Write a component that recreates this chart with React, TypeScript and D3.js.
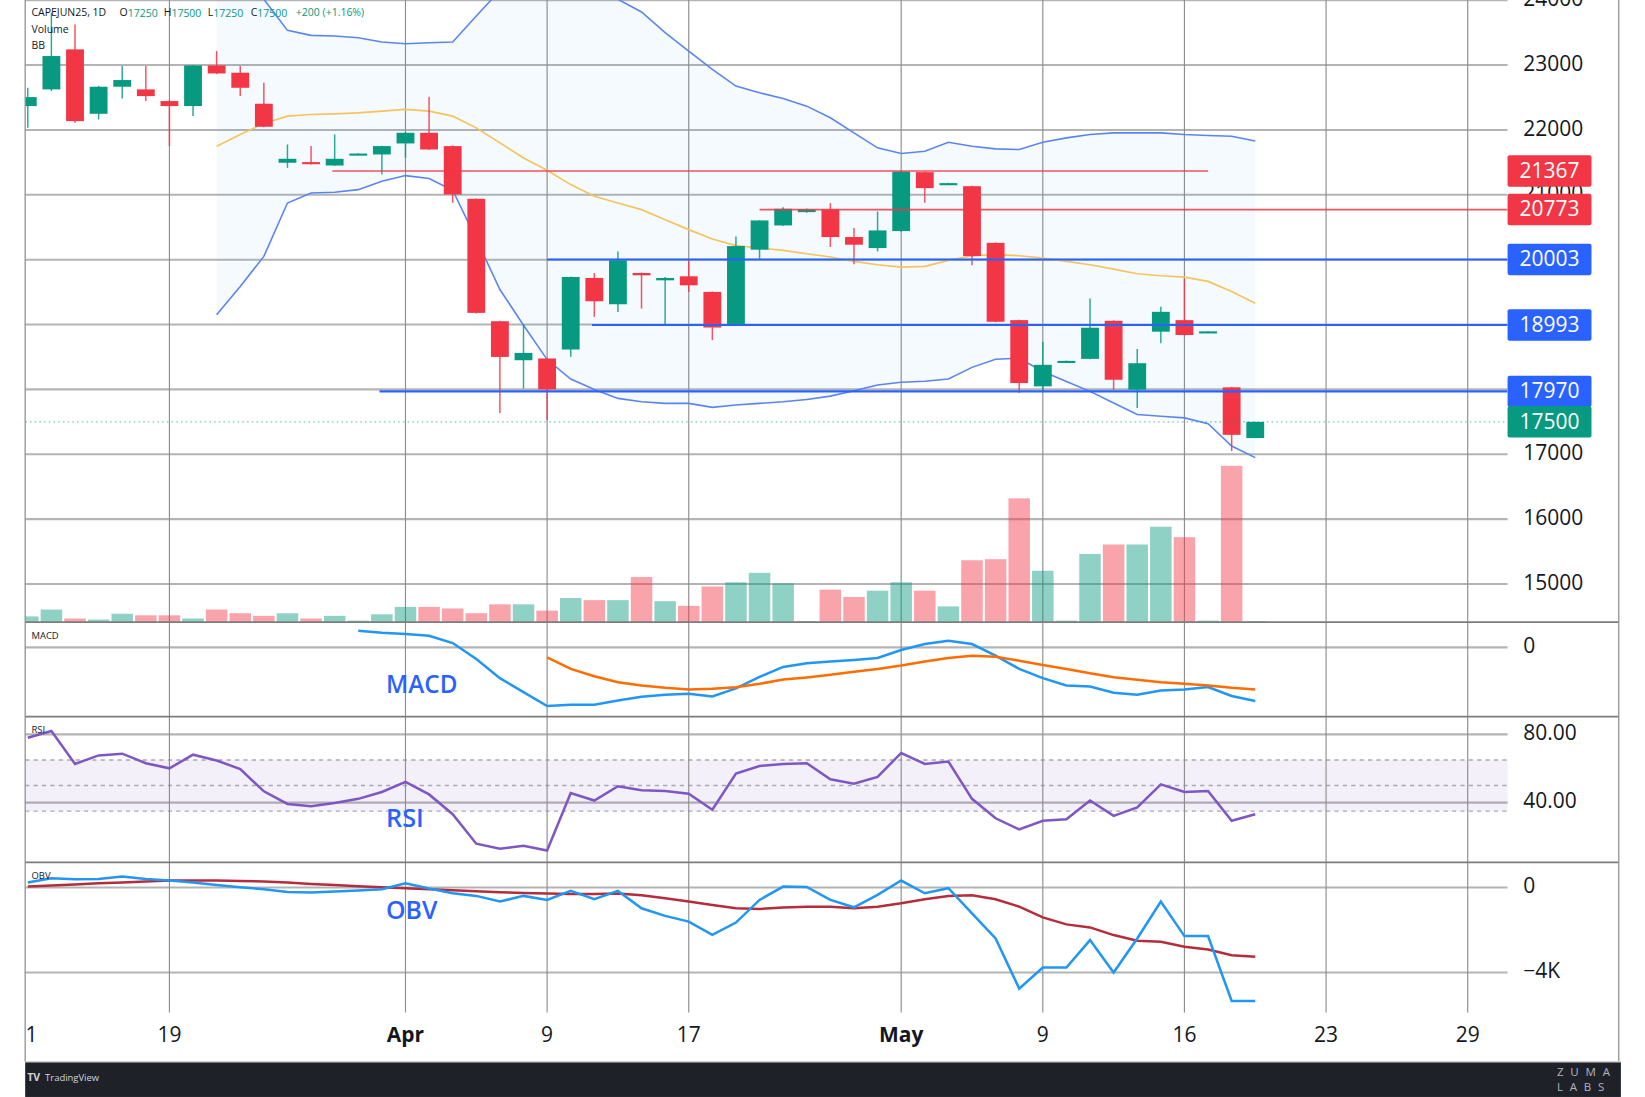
import * as d3 from 'd3';

// Picture is laid out on a 1568 x 1045.6 grid and scaled to the 1645 x 1097 window.
const W = 1568;
const H = 1045.6;

// Daily bars, index 0 is the session cut by the left edge.
const opens = [22368, 22625, 23242, 22249, 22666, 22625, 22445, 22368, 22995, 22882, 22404, 21494, 21504, 21452, 21630, 21622, 21792, 21956, 21751, 20938, 19051, 18450, 18477, 18615, 19718, 19313, 19795, 19682, 19744, 19503, 19000, 20154, 20528, 20733, 20774, 20349, 20179, 20441, 21349, 21170, 21133, 20259, 19068, 18047, 18420, 18471, 19058, 17996, 18890, 19068, 18885, 18032, 17250];
const highs = [22650, 23807, 23627, 22680, 22985, 22985, 22460, 23000, 23216, 22985, 22728, 21776, 21751, 21931, 21640, 21755, 21965, 22512, 21760, 20945, 19060, 19000, 18480, 19740, 19795, 20128, 19800, 19733, 19990, 19510, 20359, 20610, 20810, 20790, 20872, 20487, 20744, 21367, 21360, 21185, 21140, 20265, 19075, 18736, 18445, 19400, 19065, 18624, 19273, 19707, 18900, 18040, 17500];
const lows = [22033, 22600, 22111, 22162, 22486, 22445, 21751, 22213, 22860, 22522, 22040, 21416, 21468, 21445, 21625, 21314, 21571, 21690, 20877, 19170, 17637, 18013, 17528, 18503, 19118, 19195, 19246, 19000, 19503, 18759, 18995, 20015, 20520, 20725, 20195, 19928, 20128, 20430, 20877, 21165, 19913, 19035, 17945, 17970, 18415, 18465, 17996, 17715, 18711, 18830, 18880, 17051, 17250];
const closes = [22506, 23139, 22136, 22666, 22769, 22522, 22368, 22995, 22871, 22650, 22049, 21555, 21473, 21555, 21636, 21751, 21956, 21699, 21005, 19180, 18501, 18563, 18000, 19733, 19359, 19990, 19759, 19718, 19605, 18954, 20210, 20605, 20785, 20774, 20349, 20231, 20451, 21359, 21103, 21180, 20056, 19043, 18098, 18379, 18440, 18951, 18149, 18404, 19196, 18839, 18895, 17300, 17500];
const volumes = [110, 240, 70, 50, 160, 130, 130, 70, 240, 170, 120, 170, 70, 120, 30, 150, 290, 290, 260, 170, 340, 340, 220, 460, 420, 420, 860, 400, 310, 680, 760, 940, 740, 20, 620, 480, 600, 760, 600, 300, 1180, 1200, 2360, 980, 30, 1300, 1480, 1480, 1820, 1620, 30, 2980, 20];

// Bollinger bands from bar 8
const bbStart = 8;
const bbUpper = [24700, 24350, 24014, 23535, 23458, 23448, 23422, 23355, 23329, 23345, 23355, 23757, 24150, 24500, 24700, 24650, 24350, 24014, 23818, 23499, 23216, 22933, 22676, 22573, 22485, 22367, 22187, 21955, 21724, 21636, 21672, 21811, 21749, 21708, 21698, 21811, 21878, 21929, 21955, 21955, 21955, 21929, 21914, 21904, 21830];
const bbBasis = [21749, 21929, 22099, 22213, 22238, 22249, 22264, 22290, 22316, 22290, 22213, 22032, 21801, 21569, 21379, 21157, 20977, 20874, 20771, 20617, 20463, 20319, 20216, 20180, 20144, 20092, 20041, 19974, 19922, 19886, 19897, 19989, 20061, 20077, 20061, 20025, 19974, 19922, 19855, 19783, 19752, 19732, 19665, 19511, 19330];
const bbLower = [19150, 19588, 20051, 20874, 21029, 21039, 21080, 21209, 21296, 21250, 21070, 20316, 19540, 18990, 18460, 18160, 18000, 17862, 17810, 17785, 17785, 17723, 17759, 17785, 17810, 17846, 17897, 17979, 18067, 18110, 18125, 18160, 18340, 18465, 18481, 18277, 18123, 17970, 17791, 17613, 17587, 17561, 17470, 17127, 16949];

// MACD from bar 14, signal from bar 22
const macdStart = 14;
const macdLine = [158, 138, 128, 110, 41, -112, -294, -427, -560, -547, -547, -506, -472, -452, -442, -468, -392, -282, -187, -152, -136, -120, -102, -26, 31, 63, 31, -79, -206, -294, -364, -373, -433, -452, -411, -401, -379, -464, -512];
const signalStart = 22;
const signalLine = [-95, -206, -275, -332, -364, -386, -401, -395, -380, -348, -307, -287, -262, -232, -206, -174, -136, -102, -80, -90, -127, -168, -206, -247, -285, -310, -332, -348, -364, -386, -402];

const rsiValues = [78, 82, 62.7, 67.7, 68.7, 63.1, 60.1, 68.1, 64.7, 59.7, 46.6, 39.2, 37.8, 39.8, 42.2, 46.2, 52.1, 44.8, 33.2, 15.9, 12.9, 14.7, 11.9, 45.6, 41.2, 49.6, 47.2, 46.8, 45.2, 35.8, 57, 61.5, 62.7, 63.1, 53.7, 51.1, 55.1, 69.1, 62.7, 64.1, 42.2, 30.8, 24.3, 29.3, 30.2, 41.2, 32.2, 37.2, 50.7, 46.2, 46.8, 29.3, 33.2];
const rsiBand = [65, 50, 35];

const obvValues = [235, 439, 392, 408, 518, 408, 330, 235, 126, 16, -78, -204, -235, -188, -141, -78, 204, -47, -267, -392, -659, -392, -581, -157, -549, -157, -973, -1334, -1600, -2228, -1647, -581, 47, 27, -583, -929, -346, 331, -268, -31, -1213, -2394, -4756, -3764, -3764, -2473, -4000, -2394, -662, -2284, -2284, -5339, -5339];
const obvMa = [47, 94, 141, 204, 235, 282, 330, 330, 330, 314, 282, 235, 173, 126, 63, 16, -31, -78, -126, -173, -220, -251, -282, -298, -298, -282, -361, -502, -659, -816, -973, -1004, -941, -898, -898, -977, -898, -740, -551, -394, -362, -551, -898, -1402, -1733, -1874, -2237, -2504, -2552, -2788, -2914, -3181, -3260];

const dateTickIndex = [0, 6, 16, 22, 28, 37, 43, 49, 55, 61];
const dateTickLabel = ['1', '19', 'Apr', '9', '17', 'May', '9', '16', '23', '29'];
const monthTicks = ['Apr', 'May'];

// 20000, 19000 and 18000 sit under the level labels, so they are not written
const priceGrid = [24000, 23000, 22000, 21000, 20000, 19000, 18000, 17000, 16000, 15000];
const priceTickLabels = [24000, 23000, 22000, 21000, 17000, 16000, 15000];

// drawn horizontal levels (start / end in bar positions, null = to the axis)
const levelPrice = [21367, 20773, 20003, 18993, 17970];
const levelKind = ['down', 'down', 'up', 'up', 'up'];
const levelFrom = [12.9, 31, 22, 23.9, 14.9];
const levelTo: (number | null)[] = [50, null, null, null, null];
const lastPrice = 17500;

const legendLabels = ['O', 'H', 'L', 'C'];
const legendValues = ['17250', '17500', '17250', '17500'];

const GREEN = '#089981';
const RED = '#f23645';
const BLUE = '#2962ff';

export default function App() {
  const PL = 24;
  const PR = 1437;
  const AR = 1543;
  const pane = { price: [0, 593], macd: [593, 683], rsi: [683, 822], obv: [822, 965] };

  const x = d3.scaleLinear().domain([0, 61]).range([26.5, 1399]);
  const yP = d3.scaleLinear().domain([17000, 23000]).range([433, 62]);
  const yV = d3.scaleLinear().domain([0, 2980]).range([593, 444]);
  const yM = d3.scaleLinear().domain([0, -560]).range([617, 673]);
  const yR = d3.scaleLinear().domain([40, 80]).range([765, 700]);
  const yO = d3.scaleLinear().domain([-4000, 0]).range([927, 846]);

  const lineFrom = (start: number, y: d3.ScaleLinear<number, number>) =>
    d3.line<number>().x((_, i) => x(start + i)).y(v => y(v));

  const bbArea = d3.area<number>()
    .x((_, i) => x(bbStart + i))
    .y0((_, i) => yP(bbLower[i]))
    .y1(v => yP(v));

  const candleW = 17;
  const volW = 20.5;
  const axisFont = 20;
  const labelColor = '#131722';
  const legendX = [114, 156, 198, 239];

  return (
    <div style={{ position: 'absolute', left: 0, top: 0, background: '#fff' }}>
      <svg width={1645} height={1097} viewBox={`0 0 ${W} ${H}`} style={{ display: 'block' }}
        fontFamily="'Open Sans', 'Noto Sans', sans-serif">
        <defs>
          <clipPath id="clip-price"><rect x={PL} y={pane.price[0]} width={PR - PL} height={pane.price[1] - pane.price[0]} /></clipPath>
          <clipPath id="clip-macd"><rect x={PL} y={pane.macd[0]} width={PR - PL} height={pane.macd[1] - pane.macd[0]} /></clipPath>
          <clipPath id="clip-rsi"><rect x={PL} y={pane.rsi[0]} width={PR - PL} height={pane.rsi[1] - pane.rsi[0]} /></clipPath>
          <clipPath id="clip-obv"><rect x={PL} y={pane.obv[0]} width={PR - PL} height={pane.obv[1] - pane.obv[0]} /></clipPath>
        </defs>
        <rect width={W} height={H} fill="#fff" />

        {/* horizontal grid */}
        {priceGrid.map(p => (
          <line key={'pg' + p} x1={PL} x2={PR} y1={yP(p)} y2={yP(p)} stroke="#b4b4b4" strokeWidth={2} />
        ))}
        <line x1={PL} x2={PR} y1={yM(0)} y2={yM(0)} stroke="#b4b4b4" strokeWidth={2} />
        {[80, 40].map(v => (
          <line key={'rg' + v} x1={PL} x2={PR} y1={yR(v)} y2={yR(v)} stroke="#b4b4b4" strokeWidth={2} />
        ))}
        {[0, -4000].map(v => (
          <line key={'og' + v} x1={PL} x2={PR} y1={yO(v)} y2={yO(v)} stroke="#b4b4b4" strokeWidth={2} />
        ))}

        {/* RSI band */}
        <rect x={PL} y={yR(rsiBand[0])} width={PR - PL} height={yR(rsiBand[2]) - yR(rsiBand[0])} fill="#7e57c2" opacity={0.09} />
        {rsiBand.map(v => (
          <line key={'rb' + v} x1={PL} x2={PR} y1={yR(v)} y2={yR(v)} stroke="#a7a9b0" strokeWidth={1.3} strokeDasharray="4 4" />
        ))}

        {/* vertical grid */}
        {dateTickIndex.slice(1).map(i => (
          <line key={'vg' + i} x1={x(i)} x2={x(i)} y1={0} y2={pane.obv[1]} stroke="#8e8e8e" strokeWidth={1.1} />
        ))}

        {/* price pane */}
        <g clipPath="url(#clip-price)">
          <path d={bbArea(bbUpper) ?? ''} fill="#2196f3" opacity={0.05} />
          {volumes.map((v, i) => {
            const up = closes[i] >= opens[i];
            return (
              <rect key={'v' + i} x={x(i) - volW / 2} y={yV(v)} width={volW} height={yV(0) - yV(v)}
                fill={up ? GREEN : RED} opacity={0.45} />
            );
          })}
          <path d={lineFrom(bbStart, yP)(bbUpper) ?? ''} fill="none" stroke="#5b84f0" strokeWidth={1.5} />
          <path d={lineFrom(bbStart, yP)(bbLower) ?? ''} fill="none" stroke="#5b84f0" strokeWidth={1.5} />
          <path d={lineFrom(bbStart, yP)(bbBasis) ?? ''} fill="none" stroke="#f6c35c" strokeWidth={1.6} />

          {opens.map((o, i) => {
            const c = closes[i];
            const up = c >= o;
            const col = up ? GREEN : RED;
            const top = yP(Math.max(o, c));
            const bot = yP(Math.min(o, c));
            return (
              <g key={'c' + i}>
                <line x1={x(i)} x2={x(i)} y1={yP(highs[i])} y2={yP(lows[i])} stroke={col} strokeWidth={1.4} opacity={0.85} />
                <rect x={x(i) - candleW / 2} y={top} width={candleW} height={Math.max(bot - top, 2)} fill={col} />
              </g>
            );
          })}

          {levelPrice.map((p, k) => (
            <line key={'lv' + p} x1={x(levelFrom[k])} x2={levelTo[k] === null ? PR : x(levelTo[k] as number)}
              y1={yP(p)} y2={yP(p)} stroke={levelKind[k] === 'down' ? RED : BLUE}
              strokeWidth={levelKind[k] === 'down' ? 1.6 : 2} opacity={levelKind[k] === 'down' ? 0.85 : 1} />
          ))}
          <line x1={PL} x2={PR} y1={yP(lastPrice)} y2={yP(lastPrice)} stroke={GREEN} strokeWidth={1.2}
            strokeDasharray="1.5 3" opacity={0.55} />
        </g>

        {/* MACD */}
        <g clipPath="url(#clip-macd)" fill="none" strokeWidth={2.4}>
          <path d={lineFrom(macdStart, yM)(macdLine) ?? ''} stroke="#2196f3" />
          <path d={lineFrom(signalStart, yM)(signalLine) ?? ''} stroke="#ff6d00" />
        </g>

        {/* RSI */}
        <g clipPath="url(#clip-rsi)" fill="none" strokeWidth={2.4}>
          <path d={lineFrom(0, yR)(rsiValues) ?? ''} stroke="#7e57c2" />
        </g>

        {/* OBV */}
        <g clipPath="url(#clip-obv)" fill="none" strokeWidth={2.4}>
          <path d={lineFrom(0, yO)(obvMa) ?? ''} stroke="#b52d3a" />
          <path d={lineFrom(0, yO)(obvValues) ?? ''} stroke="#2196f3" />
        </g>

        {/* pane separators and borders */}
        {[pane.price[1], pane.macd[1], pane.rsi[1]].map(yy => (
          <line key={'sep' + yy} x1={PL} x2={AR} y1={yy} y2={yy} stroke="#7c7c7c" strokeWidth={1.6} />
        ))}
        <line x1={PL} x2={PL} y1={0} y2={1012} stroke="#8e8e8e" strokeWidth={1.2} />
        <line x1={AR} x2={AR} y1={0} y2={1012} stroke="#8e8e8e" strokeWidth={1.2} />

        {/* right axis */}
        <g fontSize={axisFont} fill={labelColor} dominantBaseline="middle">
          {priceTickLabels.map(p => (
            <text key={'pt' + p} x={1452} y={yP(p)}>{p}</text>
          ))}
          <text x={1452} y={yM(0)}>0</text>
          <text x={1452} y={yR(80)}>80.00</text>
          <text x={1452} y={yR(40)}>40.00</text>
          <text x={1452} y={yO(0)}>0</text>
          <text x={1452} y={yO(-4000)}>{'\u22124K'}</text>
        </g>

        {/* price labels */}
        {[...levelPrice, lastPrice].map((p, k) => {
          const col = k === levelPrice.length ? GREEN : levelKind[k] === 'down' ? RED : BLUE;
          return (
            <g key={'pl' + p}>
              <rect x={PR} y={yP(p) - 15} width={80} height={30} rx={2} fill={col} />
              <text x={PR + 40} y={yP(p) + 1} fill="#fff" fontSize={axisFont} textAnchor="middle" dominantBaseline="middle">{p}</text>
            </g>
          );
        })}

        {/* date axis */}
        <g fontSize={axisFont} fill={labelColor} textAnchor="middle" dominantBaseline="middle">
          {dateTickIndex.map((i, k) => (
            <text key={'dt' + k} x={k === 0 ? 30 : x(i)} y={988}
              fontWeight={monthTicks.includes(dateTickLabel[k]) ? 700 : 400}>{dateTickLabel[k]}</text>
          ))}
        </g>

        {/* legends */}
        <g fontSize={10} dominantBaseline="middle">
          <text x={30} y={13} fill={labelColor}>CAPEJUN25, 1D</text>
          {legendLabels.map((l, k) => (
            <text key={'lg' + l} x={legendX[k]} y={13} fill={labelColor}>{l}<tspan fill={GREEN}>{legendValues[k]}</tspan></text>
          ))}
          <text x={282} y={13} fill={GREEN}>+200 (+1.16%)</text>
          <text x={30} y={29} fill={labelColor}>Volume</text>
          <text x={30} y={44} fill={labelColor}>BB</text>
          <text x={30} y={607} fill={labelColor} fontSize={9}>MACD</text>
          <text x={30} y={696} fill={labelColor} fontSize={9}>RSI</text>
          <text x={30} y={835} fill={labelColor} fontSize={9}>OBV</text>
        </g>

        {/* blue annotations */}
        <g fill="#2962ff" fontSize={24} fontWeight={600} dominantBaseline="middle">
          <text x={368} y={654} textLength={68} lengthAdjust="spacingAndGlyphs">MACD</text>
          <text x={368} y={782} textLength={36} lengthAdjust="spacingAndGlyphs">RSI</text>
          <text x={368} y={870} textLength={49} lengthAdjust="spacingAndGlyphs">OBV</text>
        </g>

        {/* footer */}
        <rect x={PL} y={1012} width={AR - PL + 2} height={H - 1012} fill="#1f2129" />
        <line x1={PL} x2={AR + 2} y1={1012} y2={1012} stroke="#d0d0d0" strokeWidth={1.5} />
        <text x={26} y={1028} fill="#d1d4dc" fontSize={10} fontWeight={700} dominantBaseline="middle">TV</text>
        <text x={43} y={1028} fill="#d1d4dc" fontSize={9} dominantBaseline="middle">TradingView</text>
        <g fill="#b2b5be" fontSize={11} letterSpacing={6.5}>
          <text x={1484} y={1026}>ZUMA</text>
          <text x={1484} y={1040}>LABS</text>
        </g>
      </svg>
    </div>
  );
}
